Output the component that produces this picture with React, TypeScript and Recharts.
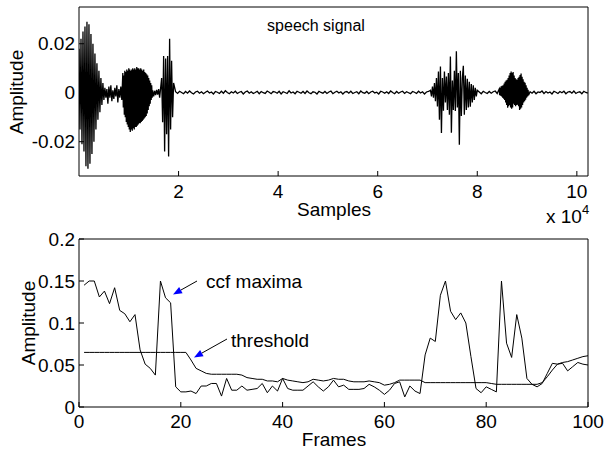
import { LineChart, Line, XAxis, YAxis } from "recharts";

const FONT = "'Liberation Sans', Arial, Helvetica, sans-serif";
const SIGNAL_LEN = 102240;

// speech waveform, amplitudes in units of 1e-4
const burst1 = [180, -150, 220, -210, 250, -240, 270, -300, 290, -310, 280, -290, 240, -250, 200, -200, 160, -150, 120, -110, 90, -80, 60, -50, 40, -30, 20];
const gap1 = [-20, 15, -45, 25, -20, 30, -35, 10, -25, 20, -15, 30, -40, 15, -20, 25, -30];
const burst2 = [
  80, -60, 70, -90, 90, -100, 85, -120, 95, -130,
  90, -140, 100, -150, 95, -160, 90, -150, 95, -155,
  100, -145, 95, -150, 100, -140, 95, -140, 105, -135,
  100, -130, 100, -125, 95, -125, 100, -120, 95, -115,
  90, -110, 95, -105, 85, -100, 80, -95, 75, -85,
  70, -70, 60, -55, 50, -45, 40, -30, 30, -20,
];
const gap2 = [10, -15, 8, -10, 12, -8, 15, -20, 20];
const burst3 = [60, -120, 150, -240, 140, -170, 150, -260, 220, -150, 130, -100, 40];
const silence1 = [
  4, -3, 6, 1, -4, 5, -2, 7, 0, -5, 3, 6, -2, 4, -4, 2,
  7, -1, 3, -5, 5, 2, -3, 6, -2, 8, 1, -4, 4, -1, 6, -3,
  2, 5, -5, 3, 7, -2, 4, -3, 1, 6, -4, 5, 0, -3, 7, 2,
  -4, 5, 3, -2, 6, -5, 4, 1, -3, 8, -1, 3, -4, 6, 2, -2,
  5, -3, 7, 0, -4, 4, 2, -5, 6, 1, -2, 5, -3, 3, 7, -4,
  2, 6, -1, 4, -5, 3, 5, -2, 6, -3, 1, 4, -4, 7, 0, -2,
  5, -4, 3, 6, -1, 2, -5, 6, 3, -2, 4, -3, 7, 1, -4, 5,
  -2, 3, 6, -3, 4, 0, -4, 5, 2, -3, 6, -1, 4, -5, 3, 5,
];
const burst4 = [10, -15, 25, -20, 40, -35, 60, -56, 87, -110, 107, -164, 60, -74, 87, -40, 66, -70, 80, -90, 148, -163, 50, -70, 90, -75, 169, -60, 80, -212, 90, -95, 60, 110, -90, 70, -70, 57, -60, 45, -57, 35, -40, 30, -30, 20, -15, 10];
const silence2 = [3, -4, 6, 1, -3, 5, -2, 4, 7, -3];
const burst5 = [
  15, -10, 20, -12, 26, -15, 28, -20, 30, -25,
  38, -30, 45, -40, 50, -50, 53, -61, 60, -55,
  70, -50, 80, -60, 87, -65, 80, -60, 85, -45,
  70, -50, 60, -55, 55, -50, 53, -49, 60, -55,
  65, -70, 72, -65, 78, -60, 65, -50, 55, -40,
  45, -35, 41, -29, 30, -20, 20, -15, 12, -10,
];
const silence3 = [4, -2, 6, -4, 3, 1, 7, -3, 5, -1, 3, -5, 6, 2, -3, 5, 0, 6, -4, 3, 5, -2, 7, -3, 2, 4, -4, 6, 1, -2];

const segments = [
  { start: 0, step: 200, amp: burst1 },
  { start: 5400, step: 200, amp: gap1 },
  { start: 8800, step: 100, amp: burst2 },
  { start: 14800, step: 200, amp: gap2 },
  { start: 16600, step: 200, amp: burst3 },
  { start: 19400, step: 400, amp: silence1 },
  { start: 70600, step: 200, amp: burst4 },
  { start: 80400, step: 400, amp: silence2 },
  { start: 84400, step: 100, amp: burst5 },
  { start: 90600, step: 400, amp: silence3 },
];

const sampleTicks = [20000, 40000, 60000, 80000, 100000];
const speechTicks = [-0.02, 0, 0.02];

// frame analysis (frames 1..100)
const ccfMaxima = [
  0.145, 0.150, 0.150, 0.131, 0.138, 0.123, 0.142, 0.115, 0.111, 0.1015,
  0.110, 0.068, 0.051, 0.046, 0.038, 0.150, 0.130, 0.124, 0.024, 0.018,
  0.018, 0.019, 0.016, 0.025, 0.025, 0.028, 0.028, 0.013, 0.034, 0.020,
  0.020, 0.025, 0.020, 0.021, 0.022, 0.028, 0.017, 0.025, 0.019, 0.034,
  0.022, 0.020, 0.020, 0.020, 0.025, 0.030, 0.024, 0.019, 0.024, 0.032,
  0.024, 0.026, 0.021, 0.021, 0.021, 0.022, 0.027, 0.024, 0.020, 0.015,
  0.020, 0.028, 0.030, 0.012, 0.025, 0.019, 0.016, 0.062, 0.082, 0.078,
  0.133, 0.150, 0.114, 0.104, 0.112, 0.100, 0.060, 0.022, 0.017, 0.024,
  0.021, 0.018, 0.150, 0.076, 0.059, 0.110, 0.082, 0.034, 0.027, 0.024,
  0.028, 0.040, 0.052, 0.051, 0.052, 0.043, 0.048, 0.053, 0.051, 0.050,
];
const threshold = [
  0.065, 0.065, 0.065, 0.065, 0.065, 0.065, 0.065, 0.065, 0.065, 0.065,
  0.065, 0.065, 0.065, 0.065, 0.065, 0.065, 0.065, 0.065, 0.065, 0.065,
  0.065, 0.056, 0.046, 0.043, 0.040, 0.039, 0.039, 0.039, 0.039, 0.039,
  0.039, 0.038, 0.035, 0.034, 0.033, 0.033, 0.031, 0.031, 0.030, 0.034,
  0.032, 0.031, 0.030, 0.029, 0.030, 0.033, 0.032, 0.031, 0.032, 0.034,
  0.033, 0.033, 0.031, 0.030, 0.030, 0.030, 0.031, 0.030, 0.029, 0.026,
  0.027, 0.029, 0.032, 0.032, 0.032, 0.032, 0.032, 0.029, 0.029, 0.029,
  0.029, 0.029, 0.029, 0.029, 0.029, 0.029, 0.029, 0.029, 0.029, 0.029,
  0.028, 0.027, 0.027, 0.027, 0.027, 0.027, 0.027, 0.027, 0.027, 0.027,
  0.029, 0.036, 0.044, 0.051, 0.053, 0.054, 0.056, 0.058, 0.060, 0.061,
];
const frameTicks = [0, 20, 40, 60, 80, 100];
const ampTicks = [0, 0.05, 0.1, 0.15, 0.2];

const speechData = segments
  .flatMap((s) => s.amp.map((a, i) => ({ n: s.start + i * s.step, v: a / 10000 })))
  .sort((a, b) => a.n - b.n);

const frameData = ccfMaxima.map((c, i) => ({ frame: i + 1, ccf: c, thr: threshold[i] }));

const axisProps = {
  axisLine: { stroke: "#000" },
  tickLine: { stroke: "#000" },
  tickSize: -5,
  allowDataOverflow: true,
  interval: 0 as const,
};
const tickStyle = { fill: "#000", fontSize: 19, fontFamily: FONT };

function Arrow({ x1, y1, x2, y2 }: { x1: number; y1: number; x2: number; y2: number }) {
  const dx = x2 - x1, dy = y2 - y1;
  const len = Math.hypot(dx, dy);
  const ux = dx / len, uy = dy / len;
  const bx = x2 - ux * 9, by = y2 - uy * 9;
  const px = -uy * 3.5, py = ux * 3.5;
  return (
    <g>
      <line x1={x1} y1={y1} x2={bx} y2={by} stroke="#000" strokeWidth={1} />
      <polygon points={`${x2},${y2} ${bx + px},${by + py} ${bx - px},${by - py}`} fill="#0000ff" />
    </g>
  );
}

export default function App() {
  return (
    <div style={{ position: "absolute", left: 0, top: 0, width: 605, height: 450, background: "#fff", fontFamily: FONT }}>
      <div style={{ position: "absolute", left: 0, top: 0 }}>
        <LineChart width={605} height={230} data={speechData} margin={{ top: 6, right: 16, bottom: 0, left: 0 }}>
          <XAxis dataKey="n" type="number" domain={[0, SIGNAL_LEN]} ticks={sampleTicks}
            tickFormatter={(v: number) => String(v / 10000)} height={54} tickMargin={14} tick={tickStyle} {...axisProps} />
          <XAxis xAxisId="top" orientation="top" dataKey="n" type="number" domain={[0, SIGNAL_LEN]}
            ticks={sampleTicks} height={1} tick={false} {...axisProps} />
          <YAxis type="number" domain={[-0.034, 0.035]} ticks={speechTicks} width={79} tickMargin={9} tick={tickStyle} {...axisProps} />
          <YAxis yAxisId="right" orientation="right" type="number" domain={[-0.034, 0.035]} ticks={speechTicks}
            width={1} tick={false} {...axisProps} />
          <Line dataKey="v" stroke="#000" strokeWidth={1.3} dot={false} isAnimationActive={false} />
        </LineChart>
      </div>
      <div style={{ position: "absolute", left: 0, top: 230 }}>
        <LineChart width={605} height={220} data={frameData} margin={{ top: 8, right: 16, bottom: 0, left: 0 }}>
          <XAxis dataKey="frame" type="number" domain={[0, 100]} ticks={frameTicks}
            height={43} tickMargin={13} tick={tickStyle} {...axisProps} />
          <XAxis xAxisId="top" orientation="top" dataKey="frame" type="number" domain={[0, 100]}
            ticks={frameTicks} height={1} tick={false} {...axisProps} />
          <YAxis type="number" domain={[0, 0.2]} ticks={ampTicks} width={79} tickMargin={9} tick={tickStyle} {...axisProps} />
          <YAxis yAxisId="right" orientation="right" type="number" domain={[0, 0.2]} ticks={ampTicks}
            width={1} tick={false} {...axisProps} />
          <Line dataKey="thr" stroke="#000" strokeWidth={1} dot={false} isAnimationActive={false} />
          <Line dataKey="ccf" stroke="#000" strokeWidth={1} dot={false} isAnimationActive={false} />
        </LineChart>
      </div>
      <svg width={605} height={450} style={{ position: "absolute", left: 0, top: 0, pointerEvents: "none" }}
        fontFamily={FONT} fill="#000">
        <text x={316} y={31} fontSize={16} textAnchor="middle">speech signal</text>
        <text x={334} y={216} fontSize={19} textAnchor="middle">Samples</text>
        <text x={546} y={223} fontSize={19}>x 10</text>
        <text x={582} y={214} fontSize={13}>4</text>
        <text transform="translate(23,92) rotate(-90)" fontSize={19} textAnchor="middle">Amplitude</text>
        <text transform="translate(35,323) rotate(-90)" fontSize={19} textAnchor="middle">Amplitude</text>
        <text x={334} y={446} fontSize={19} textAnchor="middle">Frames</text>
        <text x={206} y={288} fontSize={19}>ccf maxima</text>
        <text x={231} y={347} fontSize={19}>threshold</text>
        <Arrow x1={197} y1={281} x2={173} y2={294.5} />
        <Arrow x1={227} y1={339} x2={194} y2={357.5} />
      </svg>
    </div>
  );
}
